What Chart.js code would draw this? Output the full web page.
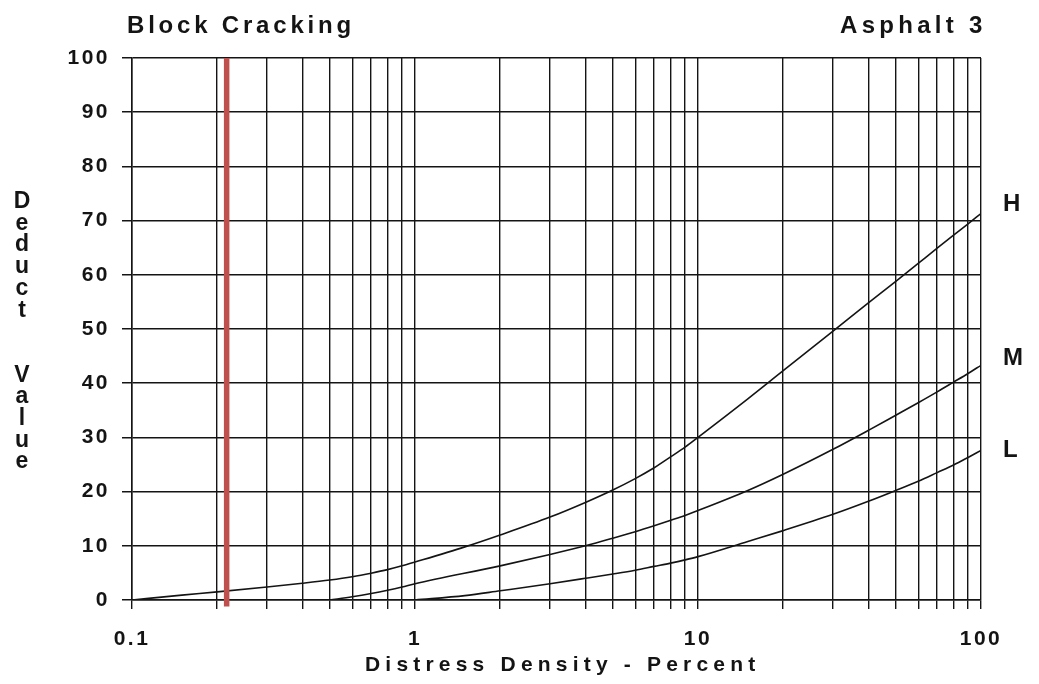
<!DOCTYPE html>
<html>
<head>
<meta charset="utf-8">
<title>Block Cracking - Asphalt 3</title>
<script src="https://cdn.jsdelivr.net/npm/chart.js@4.4.1/dist/chart.umd.min.js"></script>
<style>
  html, body { margin: 0; padding: 0; background: #fff; }
  #wrap { width: 1039px; height: 684px; position: relative; }
</style>
</head>
<body>
<div id="wrap"><canvas id="deductChart"></canvas></div>
<script>
// grid lines on the log axis, and which of them get a label
const xGridValues = [0.1, 0.2, 0.3, 0.4, 0.5, 0.6, 0.7, 0.8, 0.9,
  1, 2, 3, 4, 5, 6, 7, 8, 9,
  10, 20, 30, 40, 50, 60, 70, 80, 90, 100];
const xLabelValues = [0.1, 1, 10, 100];
const yTickValues = [0, 10, 20, 30, 40, 50, 60, 70, 80, 90, 100];

// severity curves (density %, deduct value)
const densityH = [0.1, 0.15, 0.2, 0.3, 0.4, 0.5, 0.6, 0.7, 0.8, 0.9, 1, 1.5, 2, 3, 4, 5, 6, 7, 8, 9, 10, 15, 20, 30, 40, 50, 60, 70, 80, 90, 100];
const deductH = [0, 0.9, 1.5, 2.4, 3.1, 3.7, 4.3, 4.95, 5.6, 6.3, 7.0, 9.8, 12.0, 15.3, 18.0, 20.3, 22.4, 24.4, 26.4, 28.2, 30.0, 37.1, 42.3, 49.6, 54.8, 58.8, 62.1, 64.9, 67.3, 69.4, 71.3];

const densityM = [0.5, 0.6, 0.7, 0.8, 0.9, 1, 2, 3, 4, 5, 6, 7, 8, 9, 10, 15, 20, 30, 40, 50, 60, 70, 80, 90, 100];
const deductM = [0, 0.6, 1.2, 1.8, 2.4, 3.0, 6.3, 8.4, 10.0, 11.4, 12.6, 13.7, 14.7, 15.6, 16.5, 20.2, 23.2, 27.8, 31.3, 34.1, 36.4, 38.4, 40.2, 41.8, 43.3];

const densityL = [1, 1.5, 2, 3, 4, 5, 6, 7, 8, 9, 10, 15, 20, 30, 40, 50, 60, 70, 80, 90, 100];
const deductL = [0, 0.8, 1.7, 3.0, 4.0, 4.8, 5.5, 6.2, 6.8, 7.4, 8.0, 10.8, 12.8, 15.8, 18.2, 20.2, 21.9, 23.5, 24.9, 26.3, 27.6];

// red marker line
const markerDensity = 0.216;
const markerRange = [-1.2, 100];

const curveNames = ['H', 'M', 'L'];
const yTitleLetters = ['D', 'e', 'd', 'u', 'c', 't', '', '', 'V', 'a', 'l', 'u', 'e'];

const FONT = '"Liberation Sans", Arial, Helvetica, sans-serif';
const INK = '#141414';

const toPoints = (xs, ys) => xs.map((x, i) => ({ x: x, y: ys[i] }));

const curveStyle = {
  borderColor: INK,
  borderWidth: 1.6,
  pointRadius: 0,
  fill: false,
  cubicInterpolationMode: 'monotone',
};

// titles, stacked y title and curve names are drawn here
const annotate = {
  id: 'annotate',
  beforeDraw(chart) {
    chart.ctx.letterSpacing = '2.5px';
  },
  afterDraw(chart) {
    const { ctx, chartArea, scales } = chart;
    ctx.save();
    ctx.fillStyle = INK;
    ctx.textAlign = 'left';
    ctx.textBaseline = 'alphabetic';

    ctx.font = 'bold 24px ' + FONT;
    ctx.letterSpacing = '3.8px';
    ctx.fillText('Block Cracking', 127, 33);
    ctx.letterSpacing = '4.3px';
    ctx.fillText('Asphalt 3', 840, 33);

    ctx.font = 'bold 21px ' + FONT;
    ctx.letterSpacing = '5.2px';
    ctx.fillText('Distress Density - Percent', 365, 671);

    ctx.font = 'bold 23px ' + FONT;
    ctx.letterSpacing = '0px';
    ctx.textAlign = 'center';
    yTitleLetters.forEach((ch, i) => {
      if (ch) ctx.fillText(ch, 22, 208 + i * 21.7);
    });

    ctx.font = 'bold 24px ' + FONT;
    ctx.textAlign = 'left';
    const ends = [deductH, deductM, deductL].map(d => d[d.length - 1]);
    const nudge = [-3, 0, 7];
    curveNames.forEach((name, i) => {
      ctx.fillText(name, chartArea.right + 22, scales.y.getPixelForValue(ends[i]) + nudge[i]);
    });
    ctx.restore();
  }
};

new Chart(document.getElementById('deductChart'), {
  type: 'line',
  data: {
    datasets: [
      {
        label: 'marker',
        data: toPoints([markerDensity, markerDensity], markerRange),
        borderColor: '#c0504d',
        borderWidth: 5.5,
        pointRadius: 0,
        clip: false,
      },
      Object.assign({ label: curveNames[0], data: toPoints(densityH, deductH) }, curveStyle),
      Object.assign({ label: curveNames[1], data: toPoints(densityM, deductM) }, curveStyle),
      Object.assign({ label: curveNames[2], data: toPoints(densityL, deductL) }, curveStyle),
    ],
  },
  options: {
    responsive: true,
    maintainAspectRatio: false,
    animation: false,
    layout: { padding: { top: 58, right: 58, left: 0, bottom: 0 } },
    plugins: {
      legend: { display: false },
      tooltip: { enabled: false },
    },
    scales: {
      x: {
        type: 'logarithmic',
        min: 0.1,
        max: 100,
        afterBuildTicks: (scale) => {
          scale.ticks = xGridValues.map(v => ({ value: v }));
        },
        afterFit: (scale) => { scale.height = 84; },
        ticks: {
          autoSkip: false,
          maxRotation: 0,
          padding: 18,
          color: INK,
          font: { family: FONT, size: 21, weight: 'bold' },
          callback: (v) => (xLabelValues.includes(v) ? String(v) : ''),
        },
        grid: { color: INK, lineWidth: 1.4, tickLength: 9 },
        border: { display: true, color: INK, width: 1.5 },
      },
      y: {
        min: 0,
        max: 100,
        afterBuildTicks: (scale) => {
          scale.ticks = yTickValues.map(v => ({ value: v }));
        },
        afterFit: (scale) => { scale.width = 132; },
        ticks: {
          padding: 12,
          color: INK,
          font: { family: FONT, size: 21, weight: 'bold' },
        },
        grid: { color: INK, lineWidth: 1.5, tickLength: 10 },
        border: { display: true, color: INK, width: 1.5 },
      },
    },
  },
  plugins: [annotate],
});
</script>
</body>
</html>
